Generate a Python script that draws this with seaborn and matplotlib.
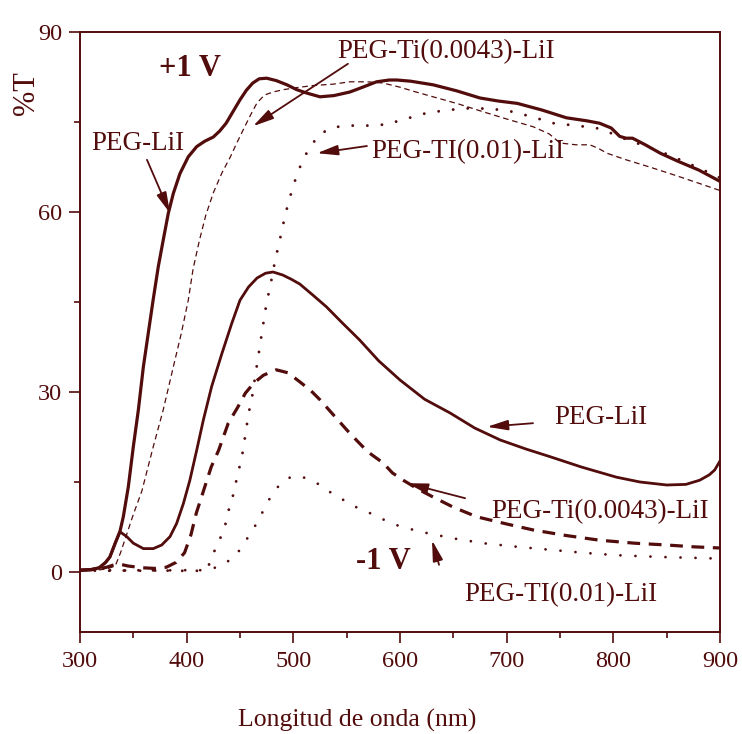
import numpy as np
import pandas as pd
import matplotlib
matplotlib.use("Agg")
import matplotlib.pyplot as plt
from matplotlib.ticker import MultipleLocator
import seaborn as sns

# ---- spectra: transmittance (%T) versus wavelength (nm) ----
# +1 V, PEG-LiI
pos_lii_wl = [300, 310, 318, 324, 328, 333, 337.5, 340.6, 345.3, 350, 354.7, 359.4, 364, 368.7,
              373.4, 378, 382.8, 387.5, 393.7, 401.5, 409.4, 417, 425, 431, 437, 443, 450, 456,
              462, 468, 475, 484, 494, 503, 513, 525, 538, 553, 565, 578, 590, 597, 610, 631,
              653, 675, 692, 710, 733, 756, 775, 787, 798, 806, 812, 818, 830, 844, 860, 880,
              898, 900]
pos_lii_t = [0.3, 0.4, 0.7, 1.6, 2.5, 4.8, 6.8, 9.2, 14.2, 20.9, 27.0, 34.2, 39.8, 45.5,
             50.9, 55.3, 59.8, 63.1, 66.4, 69.2, 70.9, 71.8, 72.5, 73.5, 74.8, 76.6, 78.7, 80.3,
             81.5, 82.2, 82.3, 81.9, 81.2, 80.4, 79.8, 79.2, 79.4, 80.0, 80.8, 81.7, 82.0, 82.0, 81.8, 81.2,
             80.2, 79.0, 78.5, 78.1, 77.0, 75.7, 75.2, 74.8, 74.0, 72.6, 72.3, 72.3, 71.2, 69.8, 68.5, 67.0,
             65.3, 65.1]

# +1 V, PEG-Ti(0.0043)-LiI
pos_ti43_wl = [300, 315, 325, 333, 338, 344, 350, 358, 368.7, 378, 387.5, 395, 401.5, 406, 412,
               418, 425, 433, 441, 447, 453, 460, 466, 473, 481, 491, 506, 520, 537, 553, 569,
               584, 600, 615, 631, 655, 678, 700, 725, 740, 750, 765, 778, 786, 794, 812,
               834, 860, 880, 898, 900]
pos_ti43_t = [0.2, 0.3, 0.5, 1.0, 3.2, 6.4, 9.6, 13.5, 20.9, 27.0, 34.2, 39.8, 45.3, 50.5, 55.3,
              59.5, 63.2, 66.5, 69.2, 71.5, 73.7, 76.2, 78.2, 79.5, 80.0, 80.4, 80.8, 81.1, 81.3, 81.7, 81.7,
              81.5, 80.8, 80.0, 79.2, 78.0, 76.7, 75.5, 74.2, 73.0, 71.5, 71.2, 71.2, 70.6, 69.8, 68.7,
              67.5, 66.0, 64.8, 63.7, 63.6]

# +1 V, PEG-TI(0.01)-LiI
pos_ti01_wl = [300, 330, 360, 390, 410, 420, 425, 431, 436, 439, 443, 446, 449, 452, 454,
               456, 458, 461, 465, 467, 469, 471, 475, 478, 483, 486, 489, 492, 495, 499,
               503, 508, 515, 525, 537, 551, 573, 587, 599, 625, 645, 666, 686, 706, 725,
               744, 765, 784, 797, 809, 828, 848, 868, 888, 900]
pos_ti01_t = [0.3, 0.2, 0.3, 0.2, 0.2, 0.8, 3.1, 5.4, 7.7, 10.1, 12.4, 14.8, 17.1, 19.4, 21.7,
              24.0, 26.4, 28.8, 33.5, 35.8, 38.1, 40.4, 45.0, 47.3, 52.0, 54.3, 56.7, 59.2, 61.3, 63.8,
              66.0, 68.3, 70.7, 73.0, 74.1, 74.4, 74.4, 74.6, 75.2, 76.5, 77.0, 77.3, 77.2, 76.7, 75.8,
              74.8, 74.4, 74.0, 73.2, 72.3, 71.1, 69.8, 68.3, 66.7, 65.7]

# -1 V, PEG-LiI
neg_lii_wl = [300, 310, 318, 324, 328, 333, 337.5, 343.8, 350, 359.4, 368.7, 376.6, 384.4, 390.6,
              396.9, 403, 409.4, 415.6, 423.4, 433, 442.2, 450, 458, 466, 474, 481, 490, 498, 506,
              518, 531, 546, 562, 580, 600, 623, 647, 670, 694, 718, 741, 770, 803, 825,
              850, 868, 881, 890, 895, 900]
neg_lii_t = [0.3, 0.4, 0.7, 1.6, 2.5, 4.8, 6.7, 5.9, 4.8, 3.9, 3.9, 4.5, 5.9, 8.1,
             11.4, 15.3, 20.3, 25.3, 30.9, 36.4, 41.4, 45.3, 47.5, 49.0, 49.8, 50.0, 49.5, 48.8, 48.0,
             46.2, 44.2, 41.5, 38.7, 35.2, 32.0, 28.8, 26.5, 24.0, 22.0, 20.5, 19.2, 17.5, 15.8, 15.0,
             14.5, 14.6, 15.3, 16.2, 17.0, 18.5]

# -1 V, PEG-Ti(0.0043)-LiI
neg_ti43_wl = [300, 315, 325, 332, 337.5, 345, 359, 370, 381, 390, 398, 404, 409, 417, 423,
               430, 439, 448, 455, 463, 472, 484, 495, 506, 516, 525, 537, 550, 559, 570,
               584, 593, 603, 617, 631, 650, 672, 700, 725, 755, 787, 820, 850, 875, 900]
neg_ti43_t = [0.3, 0.4, 0.8, 1.2, 1.3, 1.0, 0.7, 0.6, 0.8, 1.6, 3.2, 6.2, 9.8, 14.2, 17.5,
              20.3, 24.8, 27.5, 29.8, 31.5, 32.8, 33.7, 33.2, 31.7, 30.3, 28.7, 26.3, 23.7, 22.0, 20.0,
              18.2, 16.5, 15.3, 13.8, 12.5, 10.8, 9.2, 8.0, 7.0, 6.1, 5.3, 4.8, 4.5, 4.2, 4.0]

# -1 V, PEG-TI(0.01)-LiI
neg_ti01_wl = [300, 330, 360, 390, 420, 434, 446, 455, 463, 470, 477, 486, 492, 498.5, 505,
               512.5, 519, 525, 532, 539, 550, 559, 572, 585, 597, 611, 625, 650, 678, 710,
               741, 772, 803, 845, 888, 900]
neg_ti01_t = [0.2, 0.3, 0.2, 0.3, 0.3, 1.2, 2.7, 5.1, 7.3, 9.6, 12.0, 14.3, 15.3, 15.9, 16.0,
              15.6, 15.1, 14.5, 13.6, 12.8, 11.7, 10.8, 9.8, 8.7, 7.8, 7.1, 6.5, 5.6, 4.8, 4.2,
              3.7, 3.2, 2.8, 2.5, 2.3, 2.2]

x_ticks = [300, 400, 500, 600, 700, 800, 900]
y_ticks = [0, 30, 60, 90]

INK = "#520c0c"

sns.set_theme(style="ticks")
plt.rcParams["font.family"] = ["Liberation Serif", "DejaVu Serif"]
plt.rcParams["text.color"] = INK
plt.rcParams["axes.labelcolor"] = INK
plt.rcParams["xtick.color"] = INK
plt.rcParams["ytick.color"] = INK
plt.rcParams["axes.edgecolor"] = INK

fig = plt.figure(figsize=(7.42, 7.34), dpi=100)
ax = fig.add_axes([80 / 742, 1 - 632 / 734, 640 / 742, 600 / 734])

series = [
    (pos_lii_wl, pos_lii_t, dict(lw=2.3, ls="-")),
    (pos_ti43_wl, pos_ti43_t, dict(lw=0.9, ls=(0, (4.5, 3.0)))),
    (pos_ti01_wl, pos_ti01_t, dict(lw=2.1, ls=(0, (0.01, 5.0)), cap="round")),
    (neg_lii_wl, neg_lii_t, dict(lw=2.0, ls="-")),
    (neg_ti43_wl, neg_ti43_t, dict(lw=2.3, ls=(0, (4.0, 2.7)))),
    (neg_ti01_wl, neg_ti01_t, dict(lw=2.0, ls=(0, (0.01, 5.4)), cap="round")),
]

for wl, t, st in series:
    df = pd.DataFrame({"wl": wl, "T": t})
    sns.lineplot(data=df, x="wl", y="T", ax=ax, color=INK, errorbar=None,
                 linewidth=st["lw"], sort=False)
    line = ax.lines[-1]
    line.set_linestyle(st["ls"])
    line.set_dash_capstyle(st.get("cap", "butt"))
    line.set_solid_capstyle("round")
    line.set_solid_joinstyle("round")
    line.set_dash_joinstyle("round")

ax.set_xlim(300, 900)
ax.set_ylim(-10, 90)
ax.set_xticks(x_ticks)
ax.set_yticks(y_ticks)
ax.xaxis.set_minor_locator(MultipleLocator(50))
ax.yaxis.set_minor_locator(MultipleLocator(15))
ax.tick_params(which="major", direction="out", length=8, width=1.2, labelsize=17.5, pad=6)
ax.tick_params(which="minor", direction="out", length=4.5, width=1.2)
ax.tick_params(axis="y", which="major", pad=5)
for sp in ax.spines.values():
    sp.set_linewidth(1.4)
    sp.set_color(INK)

ax.set_xlabel("Longitud de onda (nm)", fontsize=18.5)
ax.xaxis.set_label_coords(0.433, -0.128)
ax.set_ylabel("%T", fontsize=22)
ax.yaxis.set_label_coords(-0.061, 0.898)

# curve labels and their arrows
lab_fs = 19.5
arrow = dict(arrowstyle="-|>,head_length=0.9,head_width=0.22", color=INK, lw=1.3,
             shrinkA=0, shrinkB=0, mutation_scale=14)

ax.text(403, 84, "+1 V", fontsize=22, fontweight="bold", ha="center", va="center")
ax.text(584, 1.7, "-1 V", fontsize=22, fontweight="bold", ha="center", va="center")

ax.text(354.4, 71.5, "PEG-LiI", fontsize=lab_fs, ha="center", va="center")
ax.annotate("", xy=(384.4, 59.8), xytext=(362.8, 68.7), arrowprops=arrow)

ax.text(643, 86.7, "PEG-Ti(0.0043)-LiI", fontsize=lab_fs, ha="center", va="center")
ax.annotate("", xy=(462.2, 74.3), xytext=(551.2, 84.7), arrowprops=arrow)

ax.text(663.7, 70.0, "PEG-TI(0.01)-LiI", fontsize=lab_fs, ha="center", va="center")
ax.annotate("", xy=(522.2, 69.8), xytext=(569, 71.0), arrowprops=arrow)

ax.text(788.4, 25.8, "PEG-LiI", fontsize=lab_fs, ha="center", va="center")
ax.annotate("", xy=(681.6, 24.2), xytext=(724.7, 24.8), arrowprops=arrow)

ax.text(787.5, 10.0, "PEG-Ti(0.0043)-LiI", fontsize=lab_fs, ha="center", va="center")
ax.annotate("", xy=(606.6, 14.8), xytext=(661, 12.3), arrowprops=arrow)

ax.text(751, -3.8, "PEG-TI(0.01)-LiI", fontsize=lab_fs, ha="center", va="center")
ax.annotate("", xy=(630, 5.3), xytext=(636.6, 1.2), arrowprops=arrow)

fig.savefig("out.png", dpi=100)
